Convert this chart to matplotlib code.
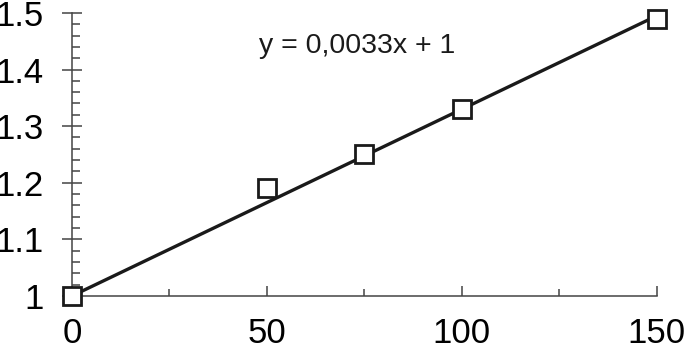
import matplotlib
matplotlib.use("Agg")
import matplotlib.pyplot as plt
import numpy as np
from matplotlib.ticker import MultipleLocator

x_vals = [0, 50, 75, 100, 150]
y_vals = [1.00, 1.19, 1.25, 1.33, 1.49]
slope = 0.0033
intercept = 1.0
eq_label = "y = 0,0033x + 1"

plt.rcParams['font.family'] = ['Liberation Sans', 'DejaVu Sans']

fig = plt.figure(figsize=(6.85, 3.49), dpi=100)
ax = fig.add_axes([0.105, 0.152, 0.854, 0.811])

xl = np.array([0, 150])
ax.plot(xl, slope * xl + intercept, color='#1a1a1a', lw=2.4, zorder=2, solid_capstyle='butt')
ax.plot(x_vals, y_vals, 's', ms=13.5, mfc='white', mec='#1a1a1a', mew=2.0, zorder=3, clip_on=False)

ax.set_xlim(0, 150)
ax.set_ylim(1.0, 1.5)
ax.xaxis.set_major_locator(MultipleLocator(50))
ax.xaxis.set_minor_locator(MultipleLocator(25))
ax.yaxis.set_major_locator(MultipleLocator(0.1))
ax.yaxis.set_minor_locator(MultipleLocator(0.02))
ax.yaxis.set_major_formatter(matplotlib.ticker.FuncFormatter(
    lambda v, p: "1" if abs(v - 1) < 1e-9 else f"{v:.1f}"))

for s in ['top', 'right']:
    ax.spines[s].set_visible(False)
for s in ['left', 'bottom']:
    ax.spines[s].set_color('#444444')
    ax.spines[s].set_linewidth(1.1)

ax.tick_params(axis='y', which='major', direction='inout', length=15, width=1.1, color='#444444', labelsize=25, pad=13)
ax.tick_params(axis='y', which='minor', direction='in', length=6, width=1.1, color='#444444')
ax.tick_params(axis='x', which='major', direction='in', length=7, width=1.1, color='#444444', labelsize=25, pad=15)
ax.tick_params(axis='x', which='minor', direction='in', length=5, width=1.1, color='#444444')

ax.text(0.487, 0.883, eq_label, transform=ax.transAxes, fontsize=20.5, ha='center', va='center', color='#1a1a1a')

fig.savefig("out.png", dpi=100)
